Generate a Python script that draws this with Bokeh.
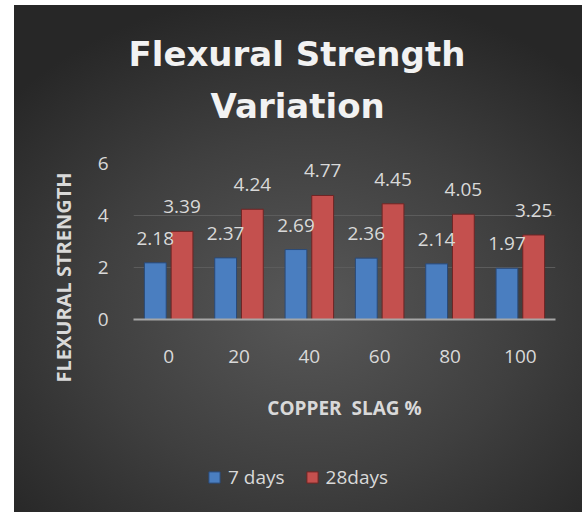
from bokeh.plotting import figure
from bokeh.layouts import column
from bokeh.models import (FactorRange, Range1d, FixedTicker, LabelSet, Title,
                          ColumnDataSource, Legend, LegendItem)
from bokeh.core.properties import value
from bokeh.transform import dodge
from bokeh.embed import file_html
from bokeh.resources import INLINE

categories = ["0", "20", "40", "60", "80", "100"]
days7 = [2.18, 2.37, 2.69, 2.36, 2.14, 1.97]
days28 = [3.39, 4.24, 4.77, 4.45, 4.05, 3.25]
series_names = ["7 days", "28days"]
y_ticks = [0, 2, 4, 6]
title_lines = ["Flexural Strength", "Variation"]
x_title = "COPPER\u00a0 SLAG %"
y_title = "FLEXURAL STRENGTH"

BLUE, BLUE_EDGE = "#4a7ec0", "#2a4a78"
RED, RED_EDGE = "#c4504e", "#6e2524"
TXT = "#d9d9d9"

src = ColumnDataSource(dict(
    cat=categories, d7=days7, d28=days28,
    l7=[f"{v:.2f}" for v in days7], l28=[f"{v:.2f}" for v in days28]))

p = figure(x_range=FactorRange(factors=categories), y_range=Range1d(0, 6),
           frame_width=422, frame_height=156, output_backend="svg", toolbar_location=None,
           min_border_left=133, min_border_right=27, min_border_top=163,
           min_border_bottom=121)
p.background_fill_alpha = 0
p.border_fill_alpha = 0
p.outline_line_color = None

p.xgrid.visible = False
p.ygrid.grid_line_color = "#5c5c5c"
p.ygrid.grid_line_width = 1

p.yaxis.ticker = FixedTicker(ticks=y_ticks)
for ax in (p.xaxis[0], p.yaxis[0]):
    ax.major_tick_line_color = None
    ax.minor_tick_line_color = None
    ax.major_label_text_color = TXT
    ax.major_label_text_font = "Open Sans"
    ax.major_label_text_font_size = "19px"
p.yaxis.axis_line_color = None
p.yaxis.major_label_standoff = 19
p.xaxis.axis_line_color = "#a6a6a6"
p.xaxis.axis_line_width = 2
p.xaxis.major_label_standoff = 24
p.xaxis.axis_label = x_title
p.xaxis.axis_label_standoff = 29
p.xaxis.axis_label_text_color = TXT
p.xaxis.axis_label_text_font = "Open Sans"
p.xaxis.axis_label_text_font_style = "bold"
p.xaxis.axis_label_text_font_size = "19px"

off = 0.19
bw = 0.31
p.vbar(x=dodge("cat", -off, range=p.x_range), top="d7", width=bw, source=src,
       fill_color=BLUE, line_color=BLUE_EDGE, line_width=1)
p.vbar(x=dodge("cat", off, range=p.x_range), top="d28", width=bw, source=src,
       fill_color=RED, line_color=RED_EDGE, line_width=1)

for col, txt, top in ((-off, "l7", "d7"), (off, "l28", "d28")):
    p.add_layout(LabelSet(x=dodge("cat", col, range=p.x_range), y=top,
                          text=txt, source=src, y_offset=18, text_align="center",
                          text_baseline="alphabetic", text_color=TXT,
                          text_font=value("Open Sans"), text_font_size="19px"))

# two-line chart title (innermost line added first)
for line, so, dx in ((title_lines[1], 75, 77), (title_lines[0], -54, -5)):
    t = Title(text=line, align="left", offset=dx,
              text_font="DejaVu Sans", text_font_style="bold",
              text_font_size="34px", text_color="#f2f2f2")
    try:
        t.standoff = so
    except Exception:
        t.standoff = 0
    p.add_layout(t, "above")

# vertical axis title
p.add_layout(Title(text=y_title, align="left", offset=-63, standoff=36,
                   text_font="Open Sans", text_font_style="bold",
                   text_font_size="20px", text_color=TXT), "left")

# legend strip below the chart
lf = figure(width=582, height=72, x_range=Range1d(10, 11), y_range=Range1d(10, 11),
            output_backend="svg", toolbar_location=None, min_border=0,
            x_axis_location=None, y_axis_location=None)
lf.grid.visible = False
lf.outline_line_color = None
lf.background_fill_alpha = 0
lf.border_fill_alpha = 0
# legend swatches: same series, mapped outside this strip's view
g7 = lf.vbar(x="d7", top="d7", width=0.1, source=src, fill_color=BLUE, line_color=BLUE_EDGE)
g28 = lf.vbar(x="d28", top="d28", width=0.1, source=src, fill_color=RED, line_color=RED_EDGE)
legend = Legend(items=[LegendItem(label=series_names[0], renderers=[g7]),
                       LegendItem(label=series_names[1], renderers=[g28])],
                orientation="horizontal", location=(74, 22),
                background_fill_alpha=0, border_line_color=None, padding=0, margin=0,
                spacing=20, label_standoff=7, glyph_width=14, glyph_height=14,
                label_text_color=TXT, label_text_font="Open Sans",
                label_text_font_size="19px")
lf.add_layout(legend)

page = column(p, lf)
page.styles = {
    "background": "linear-gradient(to right, #ffffff 14px, transparent 14px), "
                  "linear-gradient(to bottom, #ffffff 5px, transparent 5px), "
                  "radial-gradient(ellipse 68% 62% at 53% 60%, #585858 0%, #3f3f3f 55%, #272727 100%)",
}

open("out.html", "w").write(file_html(page, INLINE))
